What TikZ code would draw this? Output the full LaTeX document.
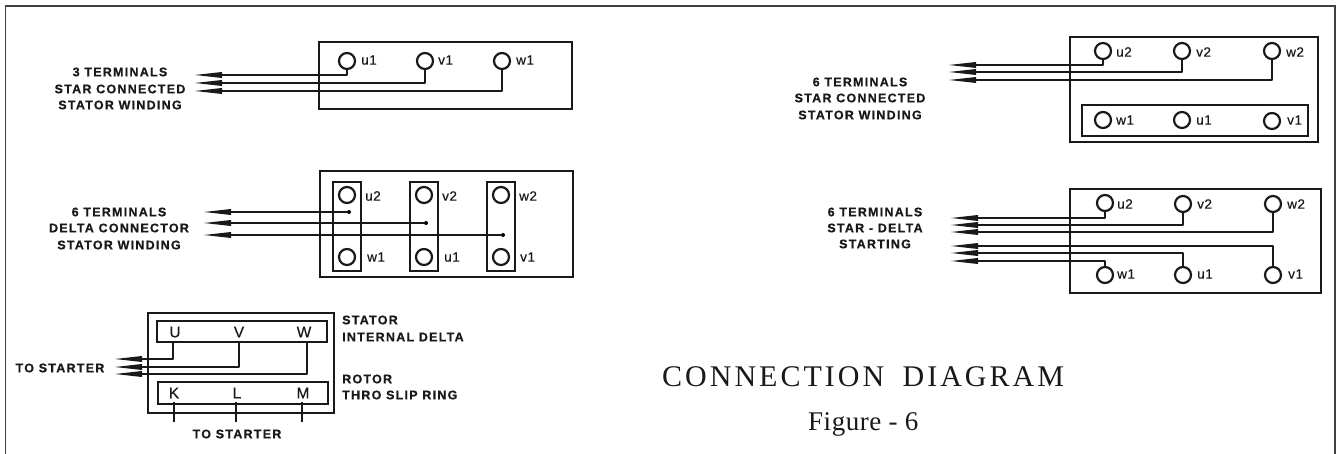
\documentclass[tikz,border=0pt]{standalone}
\usepackage{fontspec}
\setmainfont{Liberation Sans}
\newfontfamily\lblfont[LetterSpace=10,FakeBold=0.6]{Liberation Sans Bold}
\newfontfamily\termfont[LetterSpace=4,FakeBold=0.3]{Liberation Sans}
\newfontfamily\titlefont[LetterSpace=10]{Liberation Serif}
\newfontfamily\figfont[LetterSpace=2]{Liberation Serif}
\usetikzlibrary{arrows.meta}
\tikzset{
  frameline/.style={line width=1.3pt,draw=black!75},
  boxline/.style={draw=black!90,line width=1.7pt},
  wire/.style={draw=black!90,line width=1.7pt,line join=round},
  lead/.style={wire,-{Triangle[length=28pt,width=5.5pt]}},
  term/.style={circle,draw=black!90,line width=2.2pt,minimum size=16pt,inner sep=0pt,fill=none},
  tlabel/.style={anchor=west,inner sep=0pt,font=\fontsize{13.5}{13.5}\selectfont\termfont,text=black!90},
  caps/.style={inner sep=0pt,font=\fontsize{12.5}{12.5}\selectfont\lblfont,text=black!90},
  letter/.style={inner sep=0pt,font=\fontsize{15.5}{15.5}\selectfont\termfont,text=black!90},
  dotend/.style={circle,fill=black,inner sep=0pt,minimum size=4pt}
}
\begin{document}
\begin{tikzpicture}[x=1pt,y=-1pt]
\useasboundingbox (0,0) rectangle (1337,454);
\fill[white] (0,0) rectangle (1337,454);
\coordinate (fbl) at (5.5,454);
\coordinate (ftl) at (5.5,6);
\coordinate (ftr) at (1335,6);
\coordinate (fbr) at (1335,454);
\draw[frameline] (fbl) -- (ftl) -- (ftr) -- (fbr);

% Panel A
\node[boxline,draw,minimum width=0pt,inner sep=0pt] (A) at (445.5,75.5) {\tikz\path (0,0) rectangle (253pt,67pt);};
\node[term] (au) at (347,61) {};
\node[term] (av) at (425,61) {};
\node[term] (aw) at (502,61) {};
\node[tlabel] at (361,60) {u1};
\node[tlabel] at (438,60) {v1};
\node[tlabel] at (516,60) {w1};
\coordinate (al1) at (194,75); \coordinate (al2) at (194,83); \coordinate (al3) at (194,91);
\draw[lead] (au.south) |- (al1);
\draw[lead] (av.south) |- (al2);
\draw[lead] (aw.south) |- (al3);
\node[caps] at (120,72) {3 TERMINALS};
\node[caps] at (120,89) {STAR CONNECTED};
\node[caps] at (120,105) {STATOR WINDING};

% Panel B
\node[boxline,draw,inner sep=0pt] (B) at (446.5,224) {\tikz\path (0,0) rectangle (253pt,106pt);};
\foreach \n/\x/\l in {1/347/b1,2/424/b2,3/501/b3}{
  \node[boxline,draw,inner sep=0pt] (\l) at (\x,226.5) {\tikz\path (0,0) rectangle (28pt,89pt);};
}
\node[term] (bu2) at (347,195) {};
\node[term] (bw1) at (347,257) {};
\node[term] (bv2) at (424,195) {};
\node[term] (bu1) at (424,257) {};
\node[term] (bw2) at (501,195) {};
\node[term] (bv1) at (501,257) {};
\node[tlabel] at (365,196) {u2};
\node[tlabel] at (442,196) {v2};
\node[tlabel] at (519,196) {w2};
\node[tlabel] at (367,257) {w1};
\node[tlabel] at (444,257) {u1};
\node[tlabel] at (520,257) {v1};
\node[dotend] (bd1) at (349,212) {};
\node[dotend] (bd2) at (426,223) {};
\node[dotend] (bd3) at (503,235) {};
\coordinate (bl1) at (203,212); \coordinate (bl2) at (203,223); \coordinate (bl3) at (203,235);
\draw[lead] (bd1) -- (bl1);
\draw[lead] (bd2) -- (bl2);
\draw[lead] (bd3) -- (bl3);
\node[caps] at (119,212) {6 TERMINALS};
\node[caps] at (119,228) {DELTA CONNECTOR};
\node[caps] at (119,245) {STATOR WINDING};

% Panel C
\node[boxline,draw,inner sep=0pt] (C) at (241,363) {\tikz\path (0,0) rectangle (186pt,100pt);};
\node[boxline,draw,inner sep=0pt] (Ct) at (242,331.5) {\tikz\path (0,0) rectangle (170pt,21pt);};
\node[boxline,draw,inner sep=0pt] (Cb) at (243,393) {\tikz\path (0,0) rectangle (170pt,22pt);};
\node[letter] (cU) at (175,332) {U};
\node[letter] (cV) at (239,332) {V};
\node[letter] (cW) at (304,332) {W};
\node[letter] (cK) at (174,393) {K};
\node[letter] (cL) at (237,393) {L};
\node[letter] (cM) at (303,393) {M};
\coordinate (ct1) at (173,342); \coordinate (ct2) at (239,342); \coordinate (ct3) at (307,342);
\coordinate (cl1) at (114,359); \coordinate (cl2) at (114,367); \coordinate (cl3) at (114,374);
\draw[lead] (ct1) |- (cl1);
\draw[lead] (ct2) |- (cl2);
\draw[lead] (ct3) |- (cl3);
\coordinate (ck1) at (174,402); \coordinate (ck2) at (174,422);
\coordinate (cm1) at (236,402); \coordinate (cm2) at (236,422);
\coordinate (cn1) at (302,402); \coordinate (cn2) at (302,422);
\draw[wire] (ck1) -- (ck2);
\draw[wire] (cm1) -- (cm2);
\draw[wire] (cn1) -- (cn2);
\node[caps,anchor=west] at (342,320) {STATOR};
\node[caps,anchor=west] at (342,337) {INTERNAL DELTA};
\node[caps,anchor=west] at (342,379) {ROTOR};
\node[caps,anchor=west] at (342,395) {THRO SLIP RING};
\node[caps] at (60,368) {TO STARTER};
\node[caps] at (237,434) {TO STARTER};

% Panel D
\node[boxline,draw,inner sep=0pt] (D) at (1194,89.5) {\tikz\path (0,0) rectangle (248pt,105pt);};
\node[boxline,draw,inner sep=0pt] (Di) at (1195,120.5) {\tikz\path (0,0) rectangle (226pt,31pt);};
\node[term] (du2) at (1103,51) {};
\node[term] (dv2) at (1182,51) {};
\node[term] (dw2) at (1272,51) {};
\node[term] (dw1) at (1103,120) {};
\node[term] (du1) at (1182,120) {};
\node[term] (dv1) at (1272,121) {};
\node[tlabel] at (1116,52) {u2};
\node[tlabel] at (1196,52) {v2};
\node[tlabel] at (1286,52) {w2};
\node[tlabel] at (1116,120) {w1};
\node[tlabel] at (1196,120) {u1};
\node[tlabel] at (1287,120) {v1};
\coordinate (dl1) at (948,65); \coordinate (dl2) at (948,72); \coordinate (dl3) at (948,80);
\draw[lead] (du2.south) |- (dl1);
\draw[lead] (dv2.south) |- (dl2);
\draw[lead] (dw2.south) |- (dl3);
\node[caps] at (860,82) {6 TERMINALS};
\node[caps] at (860,98) {STAR CONNECTED};
\node[caps] at (860,115) {STATOR WINDING};

% Panel E
\node[boxline,draw,inner sep=0pt] (E) at (1195.5,241) {\tikz\path (0,0) rectangle (251pt,104pt);};
\node[term] (eu2) at (1105,203) {};
\node[term] (ev2) at (1183,204) {};
\node[term] (ew2) at (1273,204) {};
\node[term] (ew1) at (1105,275) {};
\node[term] (eu1) at (1183,275) {};
\node[term] (ev1) at (1273,275) {};
\node[tlabel] at (1117,204) {u2};
\node[tlabel] at (1197,204) {v2};
\node[tlabel] at (1287,204) {w2};
\node[tlabel] at (1117,274) {w1};
\node[tlabel] at (1197,274) {u1};
\node[tlabel] at (1288,274) {v1};
\coordinate (el1) at (950,218); \coordinate (el2) at (950,225); \coordinate (el3) at (950,232);
\coordinate (el4) at (950,246); \coordinate (el5) at (950,253); \coordinate (el6) at (950,261);
\draw[lead] (eu2.south) |- (el1);
\draw[lead] (ev2.south) |- (el2);
\draw[lead] (ew2.south) |- (el3);
\draw[lead] (ev1.north) |- (el4);
\draw[lead] (eu1.north) |- (el5);
\draw[lead] (ew1.north) |- (el6);
\node[caps] at (875,212) {6 TERMINALS};
\node[caps] at (875,228) {STAR - DELTA};
\node[caps] at (875,244) {STARTING};

% Title
\node[inner sep=0pt,anchor=west,font=\fontsize{30}{30}\selectfont\titlefont,text=black!90] at (662,377) {CONNECTION\hspace{8pt} DIAGRAM};
\node[inner sep=0pt,anchor=west,font=\fontsize{27}{27}\selectfont\figfont,text=black!90] at (808,424) {Figure - 6};
\end{tikzpicture}
\end{document}
